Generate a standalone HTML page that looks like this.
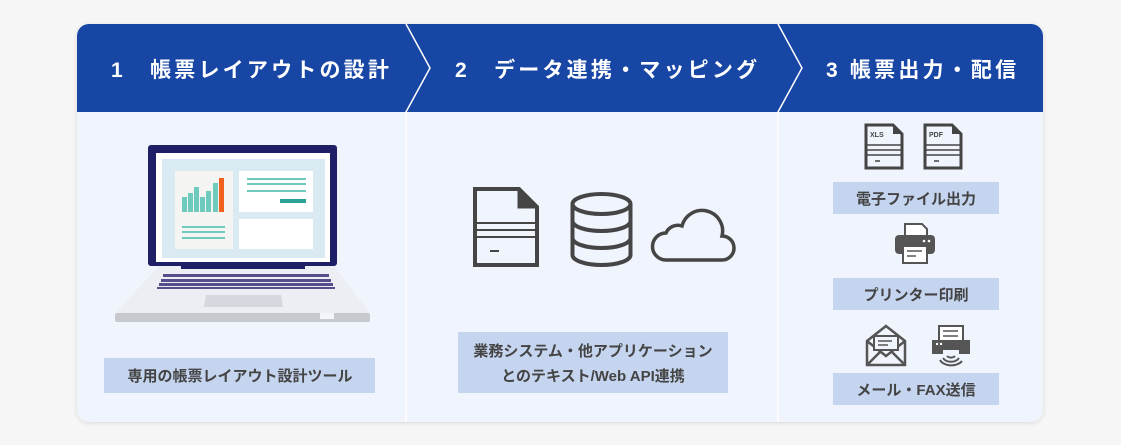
<!DOCTYPE html>
<html><head><meta charset="utf-8"><style>
html,body{margin:0;padding:0;background:#f5f6f5;width:1121px;height:445px;overflow:hidden}
svg{display:block}
text{font-family:"Liberation Sans","Noto Sans CJK JP",sans-serif;font-weight:bold}
</style></head><body>
<svg width="1121" height="445" viewBox="0 0 1121 445" xmlns="http://www.w3.org/2000/svg">
<defs><filter id="sh" x="-5%" y="-5%" width="110%" height="115%"><feDropShadow dx="0" dy="1" stdDeviation="2" flood-color="#000" flood-opacity="0.12"/></filter></defs>
<rect x="77" y="24" width="966" height="398" rx="12" fill="#f0f5fd" filter="url(#sh)"/>
<path d="M89 24 H1031 A12 12 0 0 1 1043 36 V112 H77 V36 A12 12 0 0 1 89 24Z" fill="#1846a5"/>
<polyline points="406,24 430,68 406,112 406,422" fill="none" stroke="#fff" stroke-width="1.5"/>
<polyline points="778,24 802,68 778,112 778,422" fill="none" stroke="#fff" stroke-width="1.5"/>
<g fill="#fff" font-size="21" letter-spacing="3.2">
<text x="111" y="77">1　帳票レイアウトの設計</text>
<text x="455" y="77">2　データ連携・マッピング</text>
<text x="826" y="77">3  帳票出力・配信</text>
</g>
<!-- laptop -->
<path d="M160 265 H333 L370 313 H115Z" fill="#eceef3"/>
<rect x="115" y="313" width="255" height="9" rx="2" fill="#c7c9cf"/>
<rect x="320" y="313" width="14" height="6" fill="#f4f5f8"/>
<g fill="#544f8c">
<rect x="163" y="274" width="166" height="3"/><rect x="161" y="279" width="170" height="3"/><rect x="159" y="283" width="174" height="3"/><rect x="157" y="287" width="178" height="2"/>
</g>
<path d="M206 295 H281 L283 307 H204Z" fill="#d5d6de"/>
<rect x="148" y="145" width="189" height="121" rx="3" fill="#1f1f68"/>
<rect x="181" y="262" width="124" height="7" fill="#1f1f68"/>
<rect x="156" y="153" width="174" height="109" fill="#fff"/>
<rect x="162" y="159" width="163" height="99" fill="#d9eaf3"/>
<rect x="175" y="171" width="58" height="78" fill="#f4f4f2"/>
<rect x="239" y="171" width="74" height="41" fill="#fff"/>
<rect x="239" y="219" width="74" height="30" fill="#fff"/>
<g fill="#6ecabd">
<rect x="182" y="197" width="5" height="15"/><rect x="188" y="193" width="5" height="19"/><rect x="194" y="187" width="5" height="25"/><rect x="200" y="197" width="5" height="15"/><rect x="206" y="191" width="5" height="21"/><rect x="213" y="183" width="5" height="29"/>
<rect x="182" y="226" width="43" height="2"/><rect x="182" y="231" width="43" height="2"/><rect x="182" y="237" width="43" height="2"/>
<rect x="247" y="178" width="59" height="2"/><rect x="247" y="183" width="59" height="2"/><rect x="247" y="190" width="59" height="2"/>
</g>
<rect x="219" y="178" width="5" height="34" fill="#f2601e"/>
<rect x="280" y="199" width="26" height="4" fill="#2aa396"/>
<!-- col2 icons -->
<g fill="none" stroke="#454545" stroke-width="4">
<path d="M475 189 H519 L537 207 V265 H475Z" stroke-width="4"/>
<path d="M519 189 V207 H537" fill="#454545" stroke-width="3"/>
<path d="M475 223 H537 M475 230 H537 M475 237 H537" stroke-width="2"/>
<path d="M490 251 H499" stroke-width="2"/>
<ellipse cx="601.5" cy="204" rx="29" ry="10"/>
<path d="M572.5 204 V255 A29 10 0 0 0 630.5 255 V204"/>
<path d="M572.5 221 A29 10 0 0 0 630.5 221 M572.5 238 A29 10 0 0 0 630.5 238"/>
<path d="M666 260 H722 A12 12 0 0 0 722 236 A20 20 0 0 0 682 226 A13 13 0 0 0 666 233 A13.5 13.5 0 0 0 666 260Z" stroke-width="3.5"/>
</g>
<path d="M519 189 L537 207 H519Z" fill="#454545"/>
<!-- col3 icons -->
<g fill="none" stroke="#444" stroke-width="3">
<path d="M866 125 H893 L902 134 V168 H866Z"/><path d="M925 125 H952 L961 134 V168 H925Z"/>
<path d="M866 145 H902 M866 150 H902 M866 155 H902 M925 145 H961 M925 150 H961 M925 155 H961" stroke-width="1.5"/>
<path d="M875 161 H880 M934 161 H939" stroke-width="1.5"/>
</g>
<path d="M893 125 L902 134 H893Z M952 125 L961 134 H952Z" fill="#444"/>
<text x="870" y="137" font-size="7" fill="#444">XLS</text><text x="929" y="137" font-size="7" fill="#444">PDF</text>
<!-- printer -->
<path d="M905 224 H922 L927 229 V236 H905Z" fill="#fff" stroke="#555" stroke-width="2"/>
<rect x="895" y="235" width="40" height="19" rx="4" fill="#555"/>
<rect x="903" y="246" width="24" height="17" fill="#fff" stroke="#555" stroke-width="2"/>
<path d="M907 251 H922 M907 256 H916" stroke="#555" stroke-width="1.5"/>
<circle cx="924" cy="241" r="1.3" fill="#fff"/><circle cx="929" cy="241" r="1.3" fill="#fff"/>
<!-- envelope -->
<g fill="none" stroke="#555" stroke-width="2.5">
<path d="M867 341 L886 326 L905 341 V365 H867Z"/>
<path d="M867 365 L881 351 M905 365 L891 351"/>
<path d="M867 341 L886 356 L905 341"/>
<rect x="874" y="336" width="24" height="14" fill="#f0f5fd" stroke-width="2"/>
<path d="M878 341 H892 M878 345 H888" stroke-width="1.5"/>
</g>
<!-- fax -->
<rect x="939" y="326" width="24" height="15" fill="#fff" stroke="#555" stroke-width="2"/>
<path d="M943 331 H958 M943 336 H958" stroke="#555" stroke-width="1.5"/>
<path d="M932 340 H970 V354 H959 V350 H943 V354 H932Z" fill="#555"/>
<circle cx="937" cy="344" r="1.2" fill="#fff"/><circle cx="941" cy="344" r="1.2" fill="#fff"/>
<g fill="none" stroke="#555" stroke-width="2"><path d="M947 356 A5 4 0 0 0 955 356"/><path d="M943 358 A9 7 0 0 0 959 358"/><path d="M940 360 A12 8 0 0 0 962 361"/></g>
<!-- labels -->
<g fill="#c5d5ef">
<rect x="104" y="358" width="271" height="35"/>
<rect x="458" y="332" width="270" height="61"/>
<rect x="833" y="182" width="166" height="32"/>
<rect x="833" y="278" width="166" height="32"/>
<rect x="833" y="373" width="166" height="32"/>
</g>
<g fill="#444" font-size="15" text-anchor="middle">
<text x="240" y="381">専用の帳票レイアウト設計ツール</text>
<text x="593" y="356">業務システム・他アプリケーション</text>
<text x="593" y="381">とのテキスト/Web API連携</text>
<text x="916" y="204">電子ファイル出力</text>
<text x="916" y="300">プリンター印刷</text>
<text x="916" y="395">メール・FAX送信</text>
</g>
</svg>
</body></html>
